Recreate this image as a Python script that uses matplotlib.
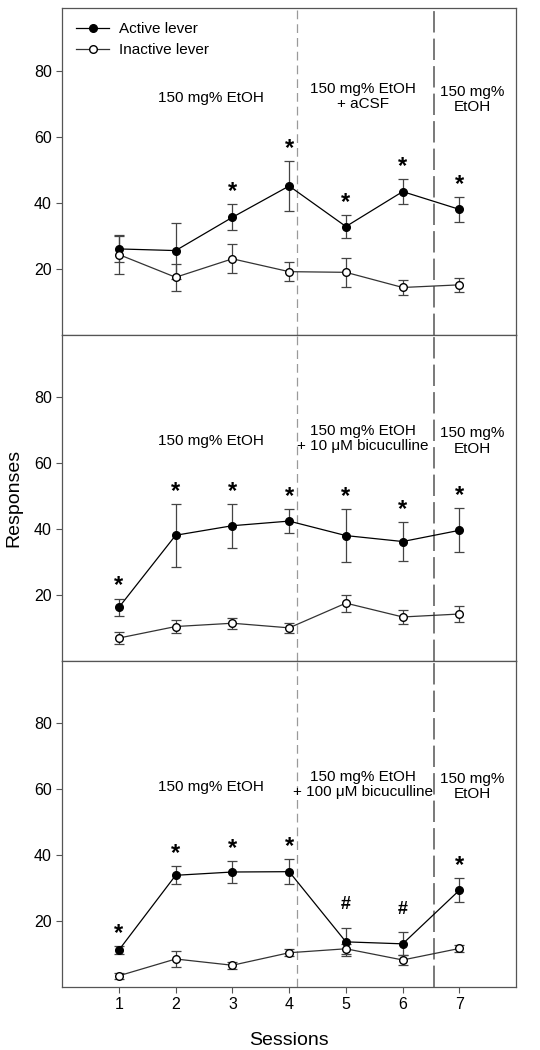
import matplotlib
matplotlib.use("Agg")
import matplotlib.pyplot as plt
from matplotlib.lines import Line2D

plt.rcParams["font.family"] = ["Liberation Sans", "DejaVu Sans"]

# ── Data ──────────────────────────────────────────────────────────────────────
sessions = [1, 2, 3, 4, 5, 6, 7]

# panel 1: EtOH + aCSF
p1_active = [26.0, 25.5, 35.6, 45.1, 32.8, 43.4, 38.0]
p1_active_err = [4.0, 8.5, 4.0, 7.5, 3.6, 3.7, 3.7]
p1_inactive = [24.3, 17.4, 23.0, 19.1, 18.9, 14.3, 15.1]
p1_inactive_err = [6.0, 4.1, 4.4, 2.9, 4.4, 2.3, 2.2]
p1_marks = ["", "", "*", "*", "*", "*", "*"]

# panel 2: EtOH + 10 uM bicuculline
p2_active = [16.2, 38.1, 41.0, 42.4, 38.0, 36.2, 39.6]
p2_active_err = [2.7, 9.6, 6.7, 3.6, 8.0, 5.8, 6.7]
p2_inactive = [6.9, 10.4, 11.4, 10.0, 17.5, 13.3, 14.2]
p2_inactive_err = [1.7, 2.0, 1.7, 1.5, 2.6, 2.2, 2.5]
p2_marks = ["*", "*", "*", "*", "*", "*", "*"]

# panel 3: EtOH + 100 uM bicuculline
p3_active = [11.2, 33.9, 34.9, 35.0, 13.7, 13.1, 29.4]
p3_active_err = [1.2, 2.7, 3.3, 3.8, 4.3, 3.5, 3.7]
p3_inactive = [3.4, 8.5, 6.6, 10.4, 11.6, 8.2, 11.7]
p3_inactive_err = [1.0, 2.4, 1.1, 1.1, 1.6, 1.5, 1.0]
p3_marks = ["*", "*", "*", "*", "#", "#", "*"]

phase_labels = [
    ["150 mg% EtOH", "150 mg% EtOH\n+ aCSF", "150 mg%\nEtOH"],
    ["150 mg% EtOH", "150 mg% EtOH\n+ 10 \u03bcM bicuculline", "150 mg%\nEtOH"],
    ["150 mg% EtOH", "150 mg% EtOH\n+ 100 \u03bcM bicuculline", "150 mg%\nEtOH"],
]
phase_breaks = [4.13, 6.56]

panels = [
    (p1_active, p1_active_err, p1_inactive, p1_inactive_err, p1_marks),
    (p2_active, p2_active_err, p2_inactive, p2_inactive_err, p2_marks),
    (p3_active, p3_active_err, p3_inactive, p3_inactive_err, p3_marks),
]

# label placement (x, y) per panel
label_x = [2.63, 5.3, 7.22]
label_y = [[71.8, 72.2, 71.4], [66.7, 67.5, 66.7], [60.6, 61.5, 60.8]]

EDGE = "#555555"

fig, axes = plt.subplots(3, 1, figsize=(5.4, 10.5), dpi=100, sharex=True)
fig.subplots_adjust(left=0.115, right=0.956, top=0.992, bottom=0.06, hspace=0)

for k, (ax, (act, act_e, ina, ina_e, marks)) in enumerate(zip(axes, panels)):
    ax.axvline(phase_breaks[0], color="#9a9a9a", lw=0.9, dashes=(7, 4))
    ax.axvline(phase_breaks[1], color="#555555", lw=1.1, dashes=(14, 4))

    ax.errorbar(sessions, act, yerr=act_e, fmt="-o", color="black", lw=0.9,
                ms=5.5, mfc="black", mec="black", ecolor="#444444",
                elinewidth=0.9, capsize=3.5, capthick=0.9, zorder=3)
    ax.errorbar(sessions, ina, yerr=ina_e, fmt="-o", color="#333333", lw=0.9,
                ms=5.5, mfc="white", mec="black", ecolor="#444444",
                elinewidth=0.9, capsize=3.5, capthick=0.9, zorder=3)

    for x, m, e, mk in zip(sessions, act, act_e, marks):
        if mk == "*":
            ax.text(x, m + e + 3.8, mk, ha="center", va="center",
                    fontsize=17, fontweight="bold")
        elif mk == "#":
            ax.text(x, m + e + 7, mk, ha="center", va="center",
                    fontsize=13, fontweight="bold")

    for lx, ly, txt in zip(label_x, label_y[k], phase_labels[k]):
        ax.text(lx, ly, txt, ha="center", va="center", fontsize=11,
                linespacing=1.1)

    ax.set_xlim(0, 8)
    ax.set_ylim(0, 99)
    ax.set_yticks([20, 40, 60, 80])
    ax.tick_params(axis="both", labelsize=11.5, length=4, color=EDGE,
                   direction="out")
    for s in ax.spines.values():
        s.set_color(EDGE)
        s.set_linewidth(0.9)
    if k < 2:
        ax.tick_params(axis="x", bottom=False)

handles = [
    Line2D([], [], color="black", lw=0.9, marker="o", ms=5.5, mfc="black",
           mec="black"),
    Line2D([], [], color="#333333", lw=0.9, marker="o", ms=5.5, mfc="white",
           mec="black"),
]
axes[0].legend(handles, ["Active lever", "Inactive lever"], loc="upper left",
               frameon=False, fontsize=11, handlelength=2.2,
               borderaxespad=0.5, labelspacing=0.45, handletextpad=0.6)
axes[2].set_xticks(sessions)
axes[2].set_xlabel("Sessions", fontsize=14, labelpad=14)
axes[1].set_ylabel("Responses", fontsize=14, labelpad=8)

fig.savefig("out.png", dpi=100)
